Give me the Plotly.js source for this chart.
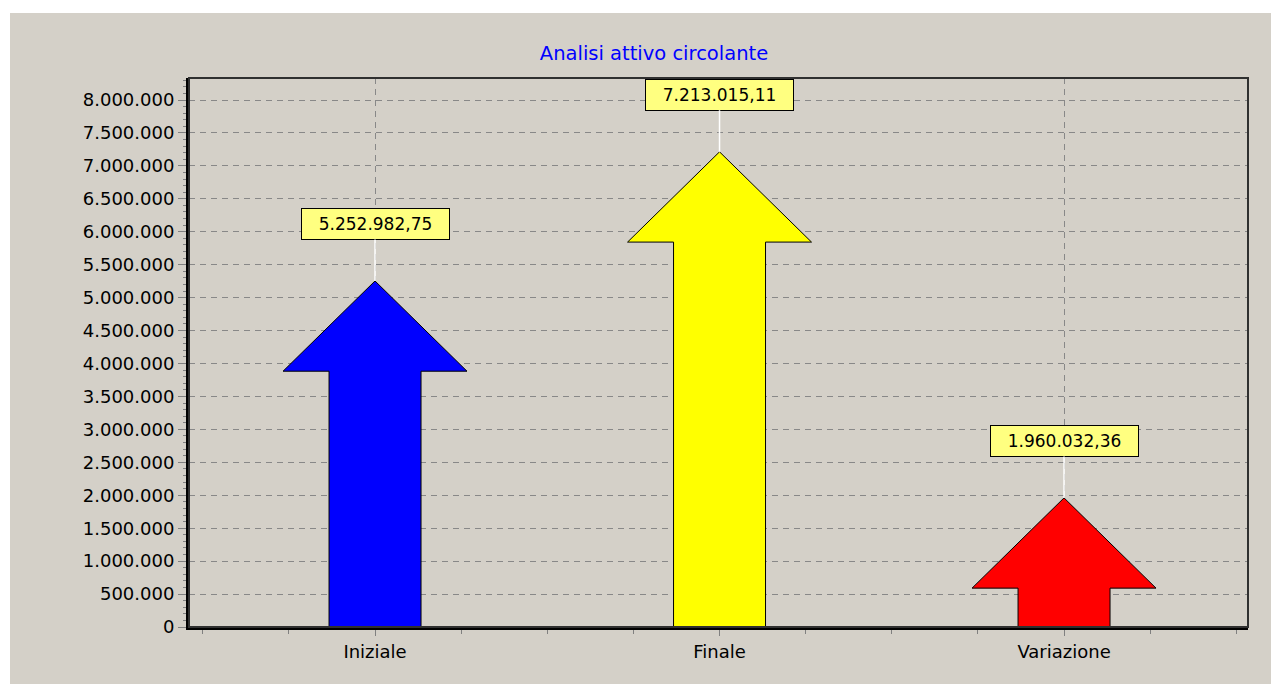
<!DOCTYPE html>
<html>
<head>
<meta charset="utf-8">
<script src="https://cdn.plot.ly/plotly-3.0.1.min.js"></script>
<style>
  html, body { margin: 0; padding: 0; background: #ffffff; width: 1271px; height: 684px; overflow: hidden; }
  #chart { position: absolute; left: 10px; top: 13px; width: 1261px; height: 671px; }
</style>
</head>
<body>
<div id="chart"></div>
<script>
// ---- data ----
const categories = ['Iniziale', 'Finale', 'Variazione'];
const values = [5252982.75, 7213015.11, 1960032.36];
const arrowColors = ['#0000ff', '#ffff00', '#ff0000'];
const chartTitle = 'Analisi attivo circolante';

// arrow geometry (in axis units)
const shaftHalf = 0.1335;   // category units
const headHalf = 0.267;     // category units
const headHeight = 1370000; // value units

function fmtIt(v) {
  const parts = v.toFixed(2).split('.');
  const intPart = parts[0].replace(/\B(?=(\d{3})+(?!\d))/g, '.');
  return intPart + ',' + parts[1];
}

const traces = values.map((v, i) => {
  const base = v - headHeight;
  return {
    type: 'scatter',
    mode: 'lines',
    x: [i - shaftHalf, i - shaftHalf, i - headHalf, i, i + headHalf, i + shaftHalf, i + shaftHalf, i - shaftHalf],
    y: [0, base, base, v, base, base, 0, 0],
    fill: 'toself',
    fillcolor: arrowColors[i],
    line: { color: '#000000', width: 1 },
    hoverinfo: 'skip',
    showlegend: false
  };
});

const annotations = values.map((v, i) => ({
  x: i, y: v, xref: 'x', yref: 'y',
  text: fmtIt(v),
  showarrow: true, arrowhead: 0, arrowcolor: '#ffffff', arrowwidth: 1.5,
  ax: 0, ay: -57, standoff: 0,
  bgcolor: '#ffff80', bordercolor: '#000000', borderwidth: 1, borderpad: 5,
  width: 137, align: 'center',
  font: { family: 'DejaVu Sans', size: 17, color: '#000000' }
}));

const layout = {
  width: 1261, height: 671,
  margin: { l: 179, r: 23, t: 65, b: 57, pad: 0 },
  paper_bgcolor: '#d4d0c8',
  plot_bgcolor: '#d4d0c8',
  separators: ',.',
  font: { family: 'DejaVu Sans', size: 18, color: '#000000' },
  title: {
    text: chartTitle,
    font: { family: 'DejaVu Sans', size: 19.5, color: '#0000ff' },
    xref: 'container', yref: 'container',
    x: 0.5107, xanchor: 'center', y: 0.9404, yanchor: 'middle'
  },
  xaxis: {
    range: [-0.54, 2.534],
    tickmode: 'array',
    tickvals: categories.map((c, i) => i),
    ticktext: categories,
    ticks: 'outside', ticklen: 6, tickcolor: '#808080', tickwidth: 1,
    showgrid: true, gridcolor: '#888888', griddash: '6px,5px', gridwidth: 1,
    showline: true, linecolor: '#000000', linewidth: 3,
    zeroline: false,
    minor: { tickmode: 'linear', tick0: -0.5, dtick: 0.25, ticks: 'outside', ticklen: 4, tickcolor: '#808080', showgrid: false },
    tickfont: { family: 'DejaVu Sans', size: 18, color: '#000000' },
    fixedrange: true
  },
  yaxis: {
    range: [0, 8334000],
    tick0: 0, dtick: 500000,
    tickformat: ',d',
    ticks: 'outside', ticklen: 8, tickcolor: '#808080', tickwidth: 1,
    showgrid: true, gridcolor: '#888888', griddash: '6px,5px', gridwidth: 1,
    showline: true, linecolor: '#000000', linewidth: 3,
    zeroline: false,
    minor: { dtick: 100000, ticks: 'outside', ticklen: 3, tickcolor: '#808080', showgrid: false },
    tickfont: { family: 'DejaVu Sans', size: 18, color: '#000000' },
    fixedrange: true
  },
  shapes: [{
    type: 'rect', xref: 'paper', yref: 'paper', x0: 0, x1: 1, y0: 0, y1: 1,
    line: { color: '#303030', width: 2 }, fillcolor: 'rgba(0,0,0,0)', layer: 'above'
  }],
  annotations: annotations,
  showlegend: false,
  hovermode: false
};

Plotly.newPlot('chart', traces, layout, { displayModeBar: false, staticPlot: true });
</script>
</body>
</html>
